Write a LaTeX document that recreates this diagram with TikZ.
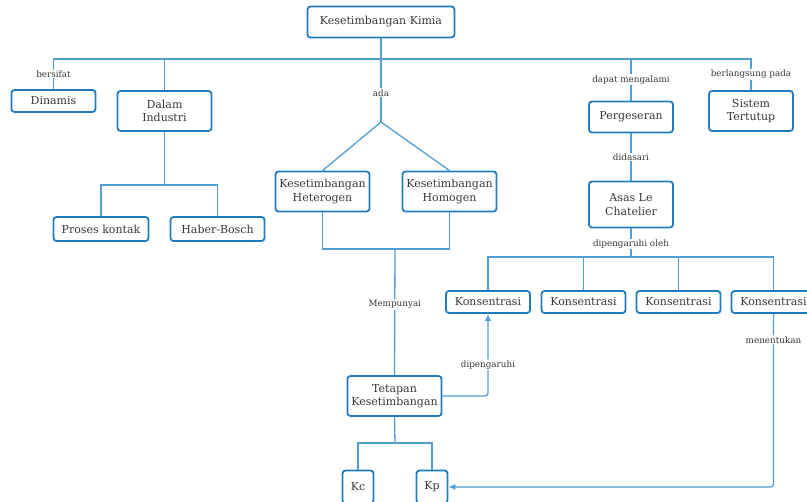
\documentclass[tikz,border=0pt]{standalone}
\usepackage{fontspec}
\setmainfont{DejaVu Serif}
\usepackage{xcolor}
\usetikzlibrary{arrows.meta}
\definecolor{boxblue}{RGB}{31,124,190}
\definecolor{linkblue}{RGB}{80,158,212}
\definecolor{txtgray}{RGB}{55,55,55}

\begin{document}
\begin{tikzpicture}[x=1pt, y=-1pt,
  box/.style = {draw=boxblue, line width=1.8pt, rounded corners=3pt, align=center, text=txtgray, font=\fontsize{11}{13.5}\selectfont, inner sep=2pt, minimum width=84pt, minimum height=22pt},
  link/.style = {draw=linkblue, line width=1.3pt},
  lbl/.style = {fill=white, text=txtgray, font=\fontsize{8.8}{10}\selectfont, inner sep=1pt}]
\useasboundingbox (0,0) rectangle (807,502);
\clip (0,0) rectangle (807,502);
\node[box, minimum width=147pt, minimum height=31pt] (1) at (381,22) {Kesetimbangan Kimia};
\node[box] (2) at (53.5,101) {Dinamis};
\node[box, minimum width=94pt, minimum height=40pt] (3) at (164.5,111) {Dalam\\Industri};
\node[box, minimum width=95pt, minimum height=24pt] (4) at (101,229) {Proses kontak};
\node[box, minimum width=94pt, minimum height=24pt] (5) at (217.5,229) {Haber-Bosch};
\node[box, minimum width=94pt, minimum height=40pt] (6) at (322.5,191.5) {Kesetimbangan\\Heterogen};
\node[box, minimum width=94pt, minimum height=40pt] (7) at (449.5,191.5) {Kesetimbangan\\Homogen};
\node[box, minimum height=31pt] (8) at (631,117) {Pergeseran};
\node[box, minimum height=40pt] (9) at (751,111) {Sistem\\Tertutup};
\node[box, minimum height=46pt] (10) at (631,204.5) {Asas Le\\Chatelier};
\node[box] (11) at (488,302) {Konsentrasi};
\node[box] (12) at (583.5,302) {Konsentrasi};
\node[box] (13) at (678.5,302) {Konsentrasi};
\node[box] (14) at (773.5,302) {Konsentrasi};
\node[box, minimum width=94pt, minimum height=40pt] (15) at (394.5,396) {Tetapan\\Kesetimbangan};
\node[box, minimum width=31pt, minimum height=33pt] (16) at (358,487) {Kc};
\node[box, minimum width=31pt, minimum height=33pt] (17) at (432,487) {Kp};

\coordinate (top) at (381,59);
\coordinate (apex) at (381,122);
\coordinate (ind) at (164.5,185);
\coordinate (mid) at (395,249);
\coordinate (kon) at (631,257);
\coordinate (kk) at (395,443);

\draw[link] (1) -- (top);
\draw[link] (2.north) |- node[lbl, pos=0.25] {bersifat} (top);
\draw[link] (9.north) |- node[lbl, pos=0.25] {berlangsung pada} (top);
\draw[link] (3.north) -- (3.north |- top);
\draw[link] (8.north) -- node[lbl] {dapat mengalami} (8.north |- top);
\draw[link] (1.south) -- node[lbl, pos=0.65] {ada} (apex);
\draw[link] (apex) -- (6.north);
\draw[link] (apex) -- (7.north);
\draw[link] (3.south) -- (ind);
\draw[link] (4.north) |- (ind) -| (5.north);
\draw[link] (6.south) |- (mid) -| (7.south);
\draw[link] (mid) -- node[lbl, pos=0.44] {Mempunyai} (15.north);
\draw[link] (8.south) -- node[lbl] {didasari} (10.north);
\draw[link] (10.south) -- node[lbl, pos=0.55] {dipengaruhi oleh} (kon);
\draw[link] (11.north) |- (kon) -| (14.north);
\draw[link] (12.north) -- (12.north |- kon);
\draw[link] (13.north) -- (13.north |- kon);
\draw[link, rounded corners=3pt, -{Latex[length=7pt,width=6pt]}] (15.east) -| node[lbl, pos=0.69] {dipengaruhi} (11.south);
\draw[link] (15.south) -- (kk);
\draw[link] (16.north) |- (kk) -| (17.north);
\draw[link, rounded corners=3pt, -{Latex[length=7pt,width=6pt]}] (14.south) |- node[lbl, pos=0.075] {menentukan} (17.east);
\end{tikzpicture}
\end{document}
